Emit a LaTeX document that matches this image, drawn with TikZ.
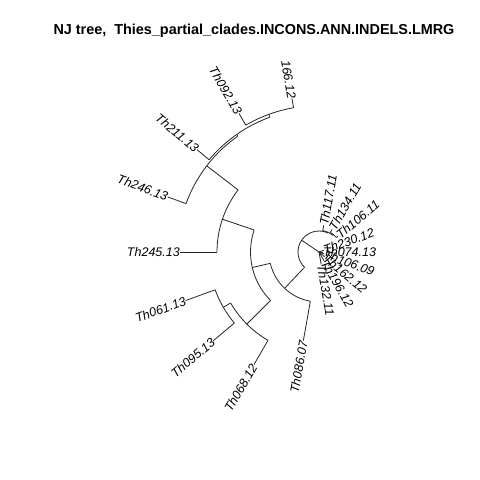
\documentclass[tikz,border=0pt]{standalone}
\usepackage{fontspec}
\setmainfont{Liberation Sans}
\usetikzlibrary{calc}
\tikzset{
  branch/.style={line width=0.8pt, draw=black!85},
  tiplab/.style={font=\itshape\fontsize{12.5}{14}\selectfont, inner sep=0pt},
  titlelab/.style={font=\bfseries\fontsize{14.4}{17}\selectfont, inner sep=0pt}
}
\newcommand\radial[4]{\draw[branch] ($(R)+(#2:#3)$) -- ($(R)+(#2:#4)$) coordinate (#1);}
\newcommand\fanarc[3]{\draw[branch] ($(R)+(#1:#3)$) arc[start angle=#1, end angle=#2, radius=#3];}
\newcommand\tipright[3]{\node[tiplab, rotate=#2, anchor=west] (#1-lab) at (#1) {#3};}
\newcommand\tipleft[3]{\node[tiplab, rotate=#2-180, anchor=east] (#1-lab) at (#1) {#3};}
\begin{document}
\begin{tikzpicture}[x=1pt,y=1pt]
\fill[white] (0,0) rectangle (480,480);
\useasboundingbox (0,0) rectangle (480,480);
\node[titlelab, anchor=base] (title) at (254,445) {NJ tree,\ \ Thies\_partial\_clades.INCONS.ANN.INDELS.LMRG};
\coordinate (R) at (319,228);
% radial branches
\radial{K}{145.8}{0}{21}
\radial{L}{65}{21}{21.8}
\radial{M}{50}{21.8}{22.6}
\radial{t117}{80}{21.8}{27}
\radial{t134}{60}{22.6}{26}
\radial{t106b}{40}{22.6}{24.5}
\radial{F}{226.56}{21}{50}
\radial{H}{193.1}{50}{68.5}
\radial{t086}{260}{50}{90}
\radial{D}{161.25}{68.5}{102}
\radial{I}{225}{68.5}{102}
\radial{t245}{180}{102}{139}
\radial{C}{142.5}{102}{141.5}
\radial{t246}{160}{141.5}{161}
\radial{B}{125}{141.5}{143.5}
\radial{t211}{140}{143.5}{159}
\radial{A}{110}{143.5}{146.5}
\radial{t092}{120}{146.5}{160}
\radial{t166}{100}{146.5}{156}
\radial{J}{210}{102}{110.5}
\radial{t068}{240}{102}{130}
\radial{t061}{200}{110.5}{142}
\radial{t095}{220}{110.5}{138}
\radial{t230}{20}{0}{5}
\radial{t074}{0}{0}{4}
\radial{t10609}{-20}{0}{5.5}
\radial{t162}{-40}{0}{7.5}
\radial{t196}{-60}{0}{10}
\radial{t132}{-80}{0}{12.5}
% arcs
\fanarc{65}{226.56}{21}
\fanarc{50}{80}{21.8}
\fanarc{40}{60}{22.6}
\fanarc{193.1}{260}{50}
\fanarc{161.25}{225}{68.5}
\fanarc{142.5}{180}{102}
\fanarc{210}{240}{102}
\fanarc{125}{160}{141.5}
\fanarc{110}{140}{143.5}
\fanarc{100}{120}{146.5}
\fanarc{200}{220}{110.5}
% labels
\tipright{t117}{80}{Th117.11}
\tipright{t134}{60}{Th134.11}
\tipright{t106b}{40}{Th106.11}
\tipright{t230}{20}{Th230.12}
\tipright{t074}{0}{Th074.13}
\tipright{t10609}{-20}{Th106.09}
\tipright{t162}{-40}{Th162.12}
\tipright{t196}{-60}{Th196.12}
\tipright{t132}{-80}{Th132.11}
\tipleft{t166}{100}{166.12}
\tipleft{t092}{120}{Th092.13}
\tipleft{t211}{140}{Th211.13}
\tipleft{t246}{160}{Th246.13}
\tipleft{t245}{180}{Th245.13}
\tipleft{t061}{200}{Th061.13}
\tipleft{t095}{220}{Th095.13}
\tipleft{t068}{240}{Th068.12}
\tipleft{t086}{260}{Th086.07}
\end{tikzpicture}
\end{document}
